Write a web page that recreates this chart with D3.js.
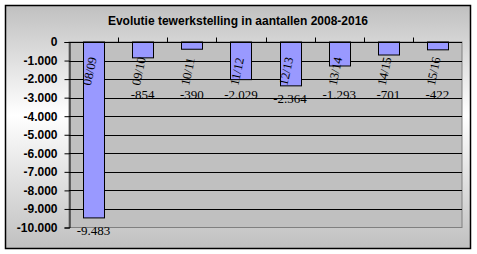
<!DOCTYPE html>
<html>
<head>
<meta charset="utf-8">
<script src="https://cdn.jsdelivr.net/npm/d3@7"></script>
<style>
  body { margin: 0; background: #fff; }
  svg { display: block; }
</style>
</head>
<body>
<script>
// seasons on the x axis
var seasons = ["08/09", "09/10", "10/11", "11/12", "12/13", "13/14", "14/15", "15/16"];
// change in employment per season
var changes = [-9483, -854, -390, -2029, -2364, -1293, -701, -422];
// y axis ticks
var yTicks = [0, -1000, -2000, -3000, -4000, -5000, -6000, -7000, -8000, -9000, -10000];

var width = 477,
    height = 254;

var svg = d3.select("body")
    .append("svg")
    .attr("width", width)
    .attr("height", height);

//background gradient of the chart frame
var defs = svg.append("defs");
var grad = defs.append("linearGradient")
    .attr("id", "bg")
    .attr("x1", 0).attr("y1", 0)
    .attr("x2", 0).attr("y2", 1);
grad.append("stop").attr("offset", "0%").attr("stop-color", "#c0c0c0");
grad.append("stop").attr("offset", "45%").attr("stop-color", "#ffffff");
grad.append("stop").attr("offset", "100%").attr("stop-color", "#c0c0c0");

svg.append("rect")
    .attr("x", 5.5).attr("y", 5.5)
    .attr("width", 465).attr("height", 243)
    .attr("fill", "url(#bg)")
    .attr("stroke", "#000")
    .attr("stroke-width", 1.5);

var plot = { left: 69, right: 462, top: 42, bottom: 227.5 };

var x = d3.scaleBand()
    .domain(seasons)
    .range([plot.left, plot.right]);

var y = d3.scaleLinear()
    .domain([-10000, 0])
    .range([plot.bottom, plot.top]);

var fmt = function(v){
    return d3.format(",")(v).replace(/,/g, ".").replace("\u2212", "-");
};

//plot area
svg.append("rect")
    .attr("x", plot.left).attr("y", plot.top)
    .attr("width", plot.right - plot.left)
    .attr("height", plot.bottom - plot.top)
    .attr("fill", "#c0c0c0")
    .attr("stroke", "#808080");

//gridlines
svg.append("g")
    .selectAll("line")
    .data(yTicks.filter(function(d){ return d > -10000 && d < 0; }))
    .enter()
    .append("line")
    .attr("x1", plot.left).attr("x2", plot.right)
    .attr("y1", function(d){ return Math.round(y(d)) + 0.5; })
    .attr("y2", function(d){ return Math.round(y(d)) + 0.5; })
    .attr("stroke", "#000");

//bars
var bw = 21;
svg.append("g")
    .selectAll("rect")
    .data(changes)
    .enter()
    .append("rect")
    .attr("x", function(d, i){ return Math.round(x(seasons[i]) + x.bandwidth() / 2 - bw / 2) + 0.5; })
    .attr("y", y(0))
    .attr("width", bw)
    .attr("height", function(d){ return y(d) - y(0); })
    .attr("fill", "#9999ff")
    .attr("stroke", "#000")
    .attr("stroke-width", 1);

//y axis
var yAxis = d3.axisLeft(y)
    .tickValues(yTicks)
    .tickSize(5)
    .tickPadding(7)
    .tickFormat(fmt);

var gy = svg.append("g")
    .attr("transform", "translate(" + (plot.left + 0.5) + ",0)")
    .call(yAxis);
gy.select(".domain").attr("stroke", "#000");
gy.selectAll("text")
    .attr("font-family", "Liberation Sans, Arial, sans-serif")
    .attr("font-size", 12)
    .attr("font-weight", "bold")
    .attr("fill", "#000");

//x axis at zero, ticks pointing up
svg.append("line")
    .attr("x1", plot.left).attr("x2", plot.right)
    .attr("y1", Math.round(y(0)) + 0.5).attr("y2", Math.round(y(0)) + 0.5)
    .attr("stroke", "#000");

svg.append("g")
    .selectAll("line")
    .data(seasons.slice(1))
    .enter()
    .append("line")
    .attr("x1", function(d){ return Math.round(x(d)) + 0.5; })
    .attr("x2", function(d){ return Math.round(x(d)) + 0.5; })
    .attr("y1", Math.round(y(0)) + 0.5)
    .attr("y2", Math.round(y(0)) - 4.5)
    .attr("stroke", "#000");

//category labels, rotated
svg.append("g")
    .selectAll("text")
    .data(seasons)
    .enter()
    .append("text")
    .attr("transform", function(d){
        return "translate(" + (x(d) + x.bandwidth() / 2 - 7) + ",85) rotate(-78)";
    })
    .attr("dy", "0.35em")
    .attr("font-family", "Liberation Serif, Times New Roman, serif")
    .attr("font-size", 12.5)
    .attr("fill", "#000")
    .text(function(d){ return d; });

//value labels
svg.append("g")
    .selectAll("text")
    .data(changes)
    .enter()
    .append("text")
    .attr("x", function(d, i){ return x(seasons[i]) + x.bandwidth() / 2; })
    .attr("y", function(d){ return Math.max(y(d) + 17, y(-3000) + 1.5); })
    .attr("text-anchor", "middle")
    .attr("font-family", "Liberation Serif, Times New Roman, serif")
    .attr("font-size", 13)
    .attr("fill", "#000")
    .text(fmt);

//title
svg.append("text")
    .attr("x", 238)
    .attr("y", 25)
    .attr("text-anchor", "middle")
    .attr("font-family", "Liberation Sans, Arial, sans-serif")
    .attr("font-size", 12)
    .attr("font-weight", "bold")
    .attr("fill", "#000")
    .text("Evolutie tewerkstelling in aantallen 2008-2016");
</script>
</body>
</html>
